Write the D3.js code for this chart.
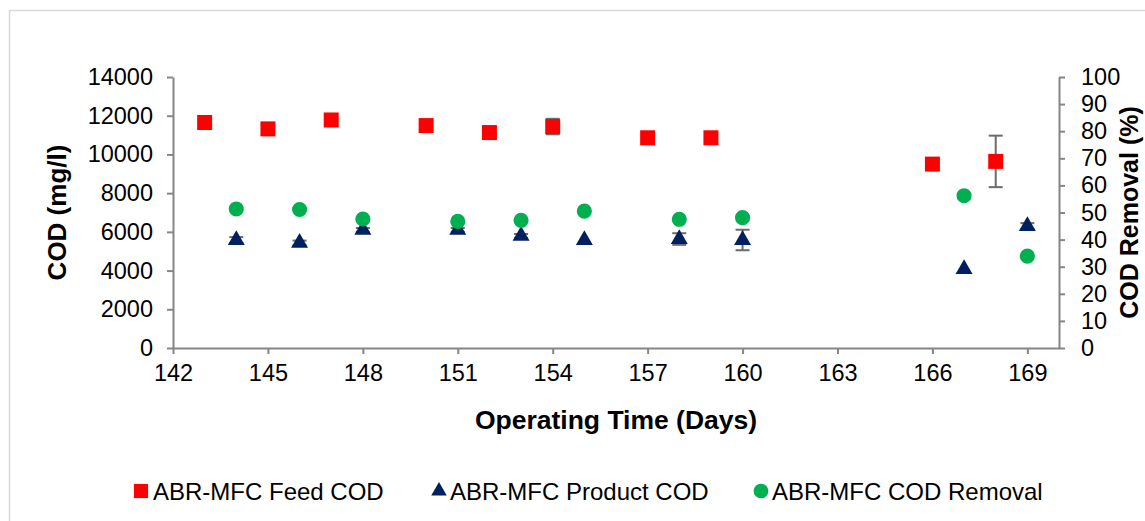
<!DOCTYPE html>
<html>
<head>
<meta charset="utf-8">
<script src="https://cdn.jsdelivr.net/npm/d3@7"></script>
<style>
  body { margin: 0; background: #fff; }
  svg { display: block; font-family: "Liberation Sans", Arial, sans-serif; }
</style>
</head>
<body>
<svg id="chart"></svg>
<script>
const WIDTH = 1145;
const HEIGHT = 521;

// Feed COD (mg/l)
const feedDays = [143, 145, 147, 150, 152, 154, 157, 159, 166, 168];
const feedCod = [11650, 11320, 11780, 11490, 11130, 11440, 10860, 10860, 9500, 9640];
const feedErr = [0, 0, 0, 0, 0, 400, 0, 0, 0, 1330];

// Product COD (mg/l)
const productDays = [144, 146, 148, 151, 153, 155, 158, 160, 167, 169];
const productCod = [5580, 5430, 6100, 6100, 5790, 5580, 5630, 5580, 4080, 6300];
const productErr = [150, 120, 100, 100, 100, 0, 300, 530, 0, 150];

// COD removal (%)
const removalDays = [144, 146, 148, 151, 153, 155, 158, 160, 167, 169];
const removalPct = [51.3, 51.1, 47.6, 46.7, 47.1, 50.5, 47.5, 48.1, 56.2, 33.9];

const xTicks = [142, 145, 148, 151, 154, 157, 160, 163, 166, 169];
const yLeftTicks = [0, 2000, 4000, 6000, 8000, 10000, 12000, 14000];
const yRightTicks = [0, 10, 20, 30, 40, 50, 60, 70, 80, 90, 100];

const legendLabels = ["ABR-MFC Feed COD", "ABR-MFC Product COD", "ABR-MFC COD Removal"];

const RED = "#ff0000", NAVY = "#002060", GREEN = "#00b050", AXIS = "#868686", ERR = "#6b6b6b";

const plot = { left: 173, right: 1059, top: 77, bottom: 348 };

const svg = d3.select("#chart").attr("width", WIDTH).attr("height", HEIGHT);

svg.append("rect").attr("width", WIDTH).attr("height", HEIGHT).attr("fill", "#fff");
svg.append("rect")
    .attr("x", 9.5).attr("y", 10.5)
    .attr("width", 1150).attr("height", 520)
    .attr("fill", "none").attr("stroke", "#d9d9d9").attr("stroke-width", 1.5);

const x = d3.scaleLinear().domain([142, 170]).range([plot.left, plot.right]);
const yL = d3.scaleLinear().domain([0, 14000]).range([plot.bottom, plot.top]);
const yR = d3.scaleLinear().domain([0, 100]).range([plot.bottom, plot.top]);

function styleAxis(g) {
    g.selectAll(".domain").attr("stroke", AXIS).attr("stroke-width", 2);
    g.selectAll(".tick line").attr("stroke", AXIS).attr("stroke-width", 2);
    g.selectAll(".tick text").attr("fill", "#000").attr("font-size", 23.5)
        .attr("font-family", "'Liberation Sans', Arial, sans-serif");
}

svg.append("g")
    .attr("transform", `translate(0,${plot.bottom})`)
    .call(d3.axisBottom(x).tickValues(xTicks).tickSize(6).tickSizeOuter(0).tickPadding(10))
    .call(styleAxis);

svg.append("g")
    .attr("transform", `translate(${plot.left},0)`)
    .call(d3.axisLeft(yL).tickValues(yLeftTicks).tickFormat(d3.format("d"))
        .tickSize(6).tickSizeOuter(0).tickPadding(14))
    .call(styleAxis);

svg.append("g")
    .attr("transform", `translate(${plot.right},0)`)
    .call(d3.axisRight(yR).tickValues(yRightTicks).tickSize(6).tickSizeOuter(0).tickPadding(16))
    .call(styleAxis);

// axis titles
svg.append("text")
    .attr("x", (plot.left + plot.right) / 2).attr("y", 429)
    .attr("text-anchor", "middle").attr("font-weight", "bold").attr("font-size", 26.5)
    .text("Operating Time (Days)");

svg.append("text")
    .attr("transform", `translate(66,${(plot.top + plot.bottom) / 2}) rotate(-90)`)
    .attr("text-anchor", "middle").attr("font-weight", "bold").attr("font-size", 26)
    .text("COD (mg/l)");

svg.append("text")
    .attr("transform", `translate(1138,${(plot.top + plot.bottom) / 2}) rotate(-90)`)
    .attr("text-anchor", "middle").attr("font-weight", "bold").attr("font-size", 25)
    .text("COD Removal (%)");

// error bars
function errorBars(days, vals, errs) {
    const data = days.map((d, i) => ({ d, v: vals[i], e: errs[i] })).filter(p => p.e > 0);
    const g = svg.append("g").attr("stroke", ERR).attr("stroke-width", 2);
    data.forEach(p => {
        const cx = x(p.d);
        g.append("line").attr("x1", cx).attr("x2", cx).attr("y1", yL(p.v + p.e)).attr("y2", yL(p.v - p.e));
        [p.v + p.e, p.v - p.e].forEach(v => {
            g.append("line").attr("x1", cx - 7).attr("x2", cx + 7).attr("y1", yL(v)).attr("y2", yL(v));
        });
    });
}
errorBars(feedDays, feedCod, feedErr);
errorBars(productDays, productCod, productErr);

const square = d3.symbol().type(d3.symbolSquare).size(225);
const triangle = d3.symbol().type(d3.symbolTriangle).size(125);
const circle = d3.symbol().type(d3.symbolCircle).size(180);

svg.append("g").selectAll("path")
    .data(feedDays.map((d, i) => [d, feedCod[i]]))
    .join("path")
    .attr("d", square)
    .attr("transform", p => `translate(${x(p[0])},${yL(p[1])})`)
    .attr("fill", RED);

svg.append("g").selectAll("path")
    .data(productDays.map((d, i) => [d, productCod[i]]))
    .join("path")
    .attr("d", triangle)
    .attr("transform", p => `translate(${x(p[0])},${yL(p[1])})`)
    .attr("fill", NAVY);

svg.append("g").selectAll("path")
    .data(removalDays.map((d, i) => [d, removalPct[i]]))
    .join("path")
    .attr("d", circle)
    .attr("transform", p => `translate(${x(p[0])},${yR(p[1])})`)
    .attr("fill", GREEN);

// legend
const legendItems = [
    { label: legendLabels[0], sym: d3.symbol().type(d3.symbolSquare).size(200), color: RED, mx: 141, tx: 153 },
    { label: legendLabels[1], sym: d3.symbol().type(d3.symbolTriangle).size(105), color: NAVY, mx: 439, tx: 450 },
    { label: legendLabels[2], sym: d3.symbol().type(d3.symbolCircle).size(170), color: GREEN, mx: 761, tx: 772 }
];
const lg = svg.append("g");
legendItems.forEach(it => {
    lg.append("path").attr("d", it.sym).attr("fill", it.color)
        .attr("transform", `translate(${it.mx},491)`);
    lg.append("text").attr("x", it.tx).attr("y", 500)
        .attr("font-size", 24).attr("fill", "#000").text(it.label);
});
</script>
</body>
</html>
